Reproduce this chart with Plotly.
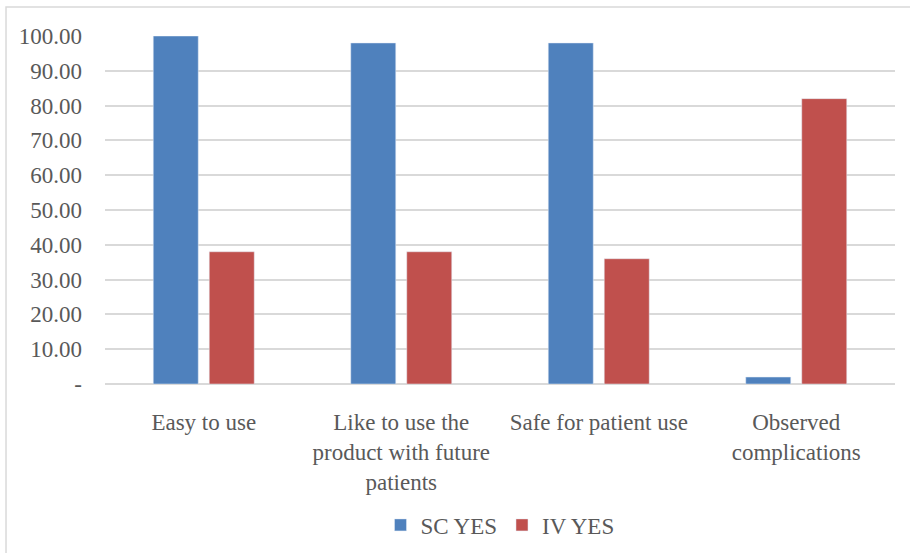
import plotly.graph_objects as go

categories = ["Easy to use", "Like to use the<br>product with future<br>patients",
              "Safe for patient use", "Observed<br>complications"]
sc_yes = [100, 98, 98, 2]
iv_yes = [38, 38, 36, 82]
tick_vals = [0, 10, 20, 30, 40, 50, 60, 70, 80, 90, 100]
tick_text = ["-", "10.00", "20.00", "30.00", "40.00", "50.00", "60.00", "70.00",
             "80.00", "90.00", "100.00"]

FONT = "Liberation Serif"
TXT = "#595959"
FS = 23

fig = go.Figure()
fig.add_trace(go.Bar(x=categories, y=sc_yes, name="SC YES", marker_color="#4F81BD"))
fig.add_trace(go.Bar(x=categories, y=iv_yes, name="IV YES", marker_color="#C0504D"))

fig.update_layout(
    width=910, height=553,
    margin=dict(l=105, r=15, t=36, b=169, autoexpand=False),
    paper_bgcolor="white", plot_bgcolor="white",
    barmode="group", bargap=0.433, bargroupgap=0.196,
    font=dict(family=FONT, size=FS, color=TXT),
    showlegend=True,
    legend=dict(orientation="h", x=0.5, xanchor="center", y=-0.405, yanchor="middle",
                font=dict(family=FONT, size=FS, color=TXT), itemwidth=30),
    xaxis=dict(showgrid=False, showline=False, ticks="", ticklabelstandoff=22,
               automargin=False,
               tickfont=dict(family=FONT, size=FS, color=TXT)),
    yaxis=dict(range=[0, 100], tickvals=tick_vals, ticktext=tick_text,
               showgrid=True, gridcolor="#D9D9D9", gridwidth=1.5,
               zeroline=True, zerolinecolor="#D9D9D9", zerolinewidth=1.5,
               showline=False, ticks="", ticklabelstandoff=22, automargin=False,
               tickfont=dict(family=FONT, size=FS, color=TXT)),
    shapes=[dict(type="rect", xref="paper", yref="paper",
                 x0=-0.1253, x1=1.03, y0=-0.52, y1=1.0833,
                 line=dict(color="#D9D9D9", width=1.5), fillcolor="rgba(0,0,0,0)",
                 layer="below")],
)

fig.write_html("out.html", config={"displayModeBar": False},
               post_script="document.body.style.margin='0';")
